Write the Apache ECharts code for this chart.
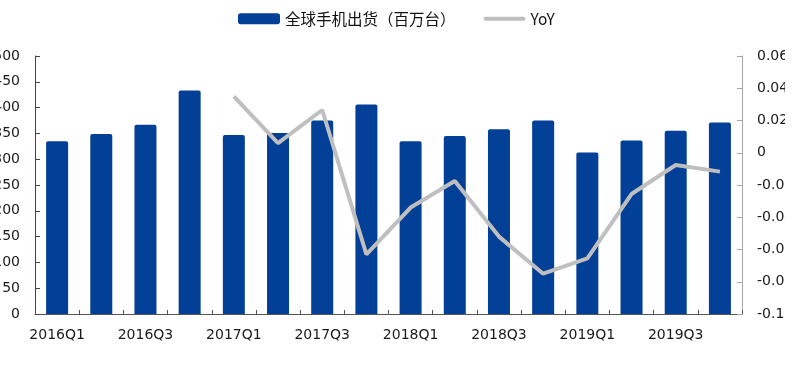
<!DOCTYPE html>
<html>
<head>
<meta charset="utf-8">
<script src="https://cdn.jsdelivr.net/npm/echarts@6/dist/echarts.min.js"></script>
<style>
html,body{margin:0;padding:0;background:#fff;}
#c{width:785px;height:369px;}
</style>
</head>
<body>
<div id="c"></div>
<script>
var categories = ['2016Q1','2016Q2','2016Q3','2016Q4','2017Q1','2017Q2','2017Q3','2017Q4',
                  '2018Q1','2018Q2','2018Q3','2018Q4','2019Q1','2019Q2','2019Q3','2019Q4'];
var shipments = [335, 349, 367, 433, 347, 351, 375, 406, 335, 345, 358, 375, 313, 336, 355, 371];
var yoy = [null, null, null, null, 0.035, 0.006, 0.0265, -0.063, -0.034, -0.0175, -0.052, -0.075, -0.0655, -0.0256, -0.0076, -0.0117];
var barName = '全球手机出货（百万台）';
var lineName = 'YoY';

var chart = echarts.init(document.getElementById('c'), null, {renderer: 'canvas'});
var tickFont = {fontFamily: 'DejaVu Sans', fontSize: 14, color: '#1a1a1a'};
chart.setOption({
  animation: false,
  backgroundColor: '#fff',
  legend: {
    left: 233, top: 6,
    itemWidth: 42, itemHeight: 11, itemGap: 28,
    textStyle: {fontFamily: 'Noto Sans CJK SC', fontSize: 15.5, color: '#111'},
    data: [
      {name: barName, icon: 'roundRect'},
      {name: lineName, icon: 'path://M2,0h38a2,2 0 0 1 0,4h-38a2,2 0 0 1 0,-4z'}
    ]
  },
  grid: {left: 35, right: 43, top: 56, bottom: 55, containLabel: false, outerBoundsMode: 'none'},
  xAxis: {
    type: 'category',
    data: categories,
    boundaryGap: true,
    axisLine: {lineStyle: {color: '#555', width: 1}},
    axisTick: {show: true, inside: true, length: 4, interval: 0, lineStyle: {color: '#555'}},
    axisLabel: Object.assign({interval: 1, margin: 14, hideOverlap: false}, tickFont),
    splitLine: {show: false}
  },
  yAxis: [
    {
      type: 'value', min: 0, max: 500, interval: 50,
      axisLine: {show: true, lineStyle: {color: '#444'}},
      axisTick: {show: true, inside: true, length: 5, lineStyle: {color: '#444'}},
      axisLabel: Object.assign({margin: 15}, tickFont),
      splitLine: {show: false}
    },
    {
      type: 'value', min: -0.1, max: 0.06, interval: 0.02,
      axisLine: {show: true, lineStyle: {color: '#a6a6a6'}},
      axisTick: {show: true, inside: true, length: 5, lineStyle: {color: '#a6a6a6'}},
      axisLabel: Object.assign({margin: 15, formatter: function(v){ var r = Math.round(v*100)/100; return r === 0 ? '0' : String(r); }}, tickFont),
      splitLine: {show: false}
    }
  ],
  series: [
    {
      name: barName, type: 'bar', data: shipments, yAxisIndex: 0,
      barWidth: 22,
      itemStyle: {color: '#023F96', borderRadius: [2,2,0,0]}
    },
    {
      name: lineName, type: 'line', data: yoy, yAxisIndex: 1,
      showSymbol: false, symbol: 'none', connectNulls: false,
      lineStyle: {color: '#bfbfbf', width: 4},
      itemStyle: {color: '#bfbfbf'}
    }
  ]
});
</script>
</body>
</html>
